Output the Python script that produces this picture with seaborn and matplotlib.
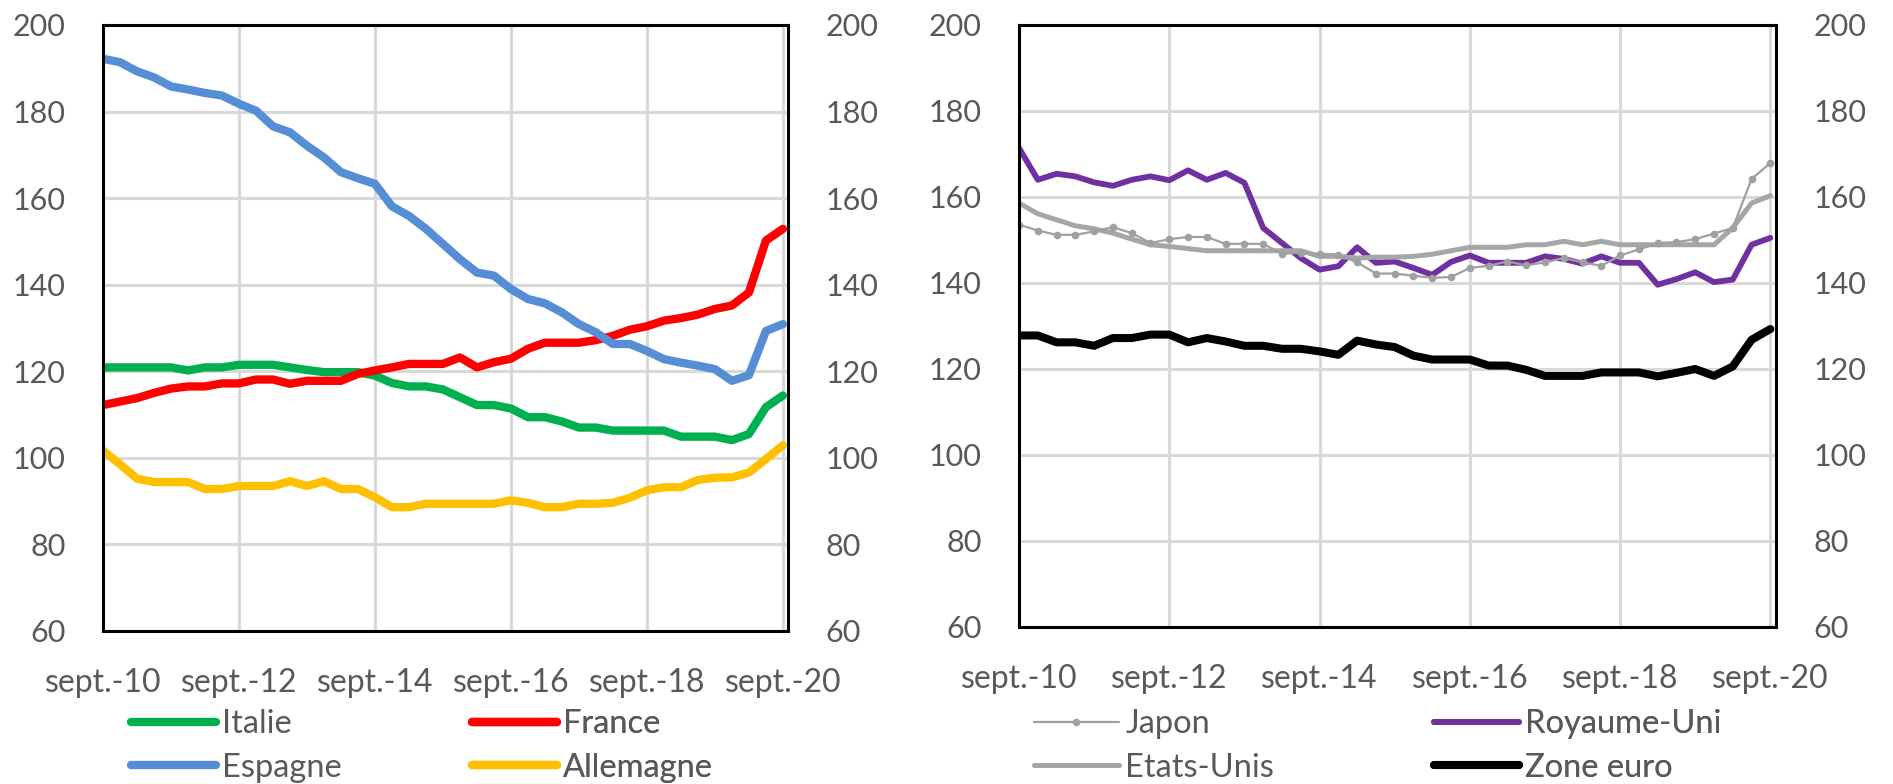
import matplotlib
matplotlib.use("Agg")
import matplotlib.pyplot as plt
import pandas as pd
import seaborn as sns
from matplotlib.lines import Line2D

# ---------------- data (quarterly, sept-10 .. sept-20) ----------------
quarters = list(range(41))
tick_positions = [0, 8, 16, 24, 32, 40]
tick_labels = ["sept.-10", "sept.-12", "sept.-14", "sept.-16", "sept.-18", "sept.-20"]
y_ticks = [60, 80, 100, 120, 140, 160, 180, 200]

italie = [120.9, 120.9, 120.9, 120.9, 120.9, 120.2, 120.9, 120.9, 121.5, 121.5,
          121.5, 120.9, 120.3, 119.8, 119.8, 119.8, 119.0, 117.3, 116.5, 116.5,
          115.8, 114.0, 112.2, 112.2, 111.4, 109.4, 109.4, 108.4, 107.0, 107.0,
          106.3, 106.3, 106.3, 106.3, 104.9, 104.9, 104.9, 104.1, 105.5, 111.7,
          114.4]
france = [112.2, 113.0, 113.8, 115.0, 116.0, 116.5, 116.5, 117.2, 117.2, 118.1,
          118.1, 117.1, 117.8, 117.8, 117.8, 119.4, 120.2, 120.9, 121.7, 121.7,
          121.7, 123.2, 120.9, 122.1, 122.9, 125.2, 126.6, 126.6, 126.6, 127.2,
          128.2, 129.6, 130.4, 131.7, 132.3, 133.1, 134.4, 135.2, 138.2, 150.2,
          152.9]
espagne = [192.2, 191.4, 189.3, 187.9, 185.8, 185.1, 184.3, 183.7, 181.8, 180.2,
           176.6, 175.2, 172.1, 169.4, 166.0, 164.6, 163.3, 158.1, 155.9, 152.9,
           149.4, 145.9, 142.8, 142.1, 139.0, 136.7, 135.7, 133.6, 130.9, 129.0,
           126.3, 126.3, 124.7, 122.8, 122.0, 121.3, 120.5, 117.8, 119.1, 129.3,
           130.9]
allemagne = [101.7, 98.5, 95.2, 94.4, 94.4, 94.4, 92.8, 92.8, 93.5, 93.5,
             93.5, 94.6, 93.5, 94.6, 92.8, 92.8, 90.9, 88.6, 88.6, 89.4,
             89.4, 89.4, 89.4, 89.4, 90.2, 89.6, 88.6, 88.6, 89.4, 89.4,
             89.6, 90.8, 92.5, 93.2, 93.2, 94.9, 95.4, 95.5, 96.6, 99.7,
             102.9]

japon = [153.6, 152.2, 151.2, 151.2, 152.0, 153.0, 151.6, 149.3, 150.2, 150.7,
         150.7, 149.1, 149.1, 149.1, 146.8, 147.0, 146.8, 146.6, 144.8, 142.2,
         142.2, 141.7, 141.2, 141.4, 143.5, 144.0, 145.0, 144.1, 144.8, 145.8,
         144.8, 144.0, 146.4, 147.8, 149.3, 149.5, 150.2, 151.5, 152.8, 164.2,
         167.9]
royaume_uni = [171.4, 164.0, 165.4, 164.8, 163.4, 162.6, 164.0, 164.8, 163.9, 166.2,
               164.0, 165.6, 163.3, 152.8, 149.3, 145.8, 143.1, 143.9, 148.3, 144.7,
               145.0, 143.5, 141.9, 144.9, 146.4, 144.7, 144.7, 144.7, 146.2, 145.6,
               144.5, 146.2, 144.7, 144.7, 139.6, 140.9, 142.5, 140.2, 140.8, 148.9,
               150.5]
etats_unis = [158.6, 156.1, 154.7, 153.3, 152.6, 151.6, 150.2, 148.9, 148.5, 148.0,
              147.5, 147.5, 147.5, 147.5, 147.5, 147.5, 146.2, 146.2, 145.8, 146.0,
              146.0, 146.2, 146.7, 147.5, 148.3, 148.3, 148.3, 148.9, 148.9, 149.7,
              148.9, 149.7, 148.9, 148.9, 148.9, 148.9, 148.9, 148.9, 152.8, 158.6,
              160.3]
zone_euro = [127.8, 127.8, 126.2, 126.2, 125.4, 127.2, 127.2, 128.0, 128.0, 126.2,
             127.2, 126.4, 125.4, 125.4, 124.7, 124.7, 124.1, 123.3, 126.6, 125.7,
             125.1, 123.1, 122.2, 122.2, 122.2, 120.8, 120.8, 119.8, 118.4, 118.4,
             118.4, 119.2, 119.2, 119.2, 118.3, 119.1, 120.0, 118.4, 120.6, 126.8,
             129.3]

# ---------------- styling ----------------
sns.set_theme(style="white")
plt.rcParams["font.family"] = ["Lato", "DejaVu Sans"]

TXT = "#595959"
GRID = "#D9D9D9"
FS = 22
XFS = 23
LFS = 23.5

fig = plt.figure(figsize=(18.93, 7.84), dpi=100)
ax1 = fig.add_axes([103 / 1893, 1 - 631 / 784, 685 / 1893, 606 / 784])
ax2 = fig.add_axes([1019 / 1893, 1 - 627 / 784, 757 / 1893, 602 / 784])


def draw(ax, values, color, lw, marker=None, ms=0, z=2):
    df = pd.DataFrame({"q": quarters, "v": values})
    sns.lineplot(data=df, x="q", y="v", ax=ax, color=color, linewidth=lw,
                 marker=marker, markersize=ms, markeredgewidth=0,
                 solid_capstyle="round", solid_joinstyle="round", zorder=z,
                 legend=False)
    return Line2D([0], [0], color=color, linewidth=lw, marker=marker,
                  markersize=ms, markeredgewidth=0, solid_capstyle="round")


def style(ax):
    ax.set_xlim(0, 40.3)
    ax.set_ylim(60, 200)
    ax.set_xticks(tick_positions)
    ax.set_xticklabels(tick_labels)
    ax.set_yticks(y_ticks)
    ax.grid(True, color=GRID, linewidth=2.2)
    ax.set_axisbelow(True)
    for s in ax.spines.values():
        s.set_visible(True)
        s.set_color("black")
        s.set_linewidth(2.2)
        s.set_zorder(5)
    ax.tick_params(axis="both", length=0, labelsize=FS, labelcolor=TXT)
    ax.tick_params(axis="x", labelsize=XFS, pad=27)
    ax.tick_params(axis="y", labelleft=True, labelright=True, pad=27)
    ax.set_xlabel("")
    ax.set_ylabel("")


# left chart
h_it = draw(ax1, italie, "#00B050", 6)
h_fr = draw(ax1, france, "#FF0000", 6)
h_es = draw(ax1, espagne, "#558ED5", 6)
h_al = draw(ax1, allemagne, "#FFC000", 6)
style(ax1)

# right chart
h_jp = draw(ax2, japon, "#A0A0A0", 1.6, marker="o", ms=5.5, z=3)
h_uk = draw(ax2, royaume_uni, "#7030A0", 4.2)
h_us = draw(ax2, etats_unis, "#A6A6A6", 3.6)
h_ez = draw(ax2, zone_euro, "#000000", 5.8)
style(ax2)

leg_kw = dict(loc="upper left", frameon=False, fontsize=LFS, labelcolor=TXT,
              handlelength=2.6, handletextpad=0.2, labelspacing=0.42,
              borderpad=0, borderaxespad=0, bbox_transform=fig.transFigure)


def col_legend(ax, handles, labels, x_px):
    leg = ax.legend(handles, labels, bbox_to_anchor=(x_px / 1893, 1 - 709 / 784), **leg_kw)
    ax.add_artist(leg)


col_legend(ax1, [h_it, h_es], ["Italie", "Espagne"], 131)
col_legend(ax1, [h_fr, h_al], ["France", "Allemagne"], 472)
col_legend(ax2, [h_jp, h_us], ["Japon", "Etats-Unis"], 1034)
col_legend(ax2, [h_uk, h_ez], ["Royaume-Uni", "Zone euro"], 1434)

fig.savefig("out.png", dpi=100)
